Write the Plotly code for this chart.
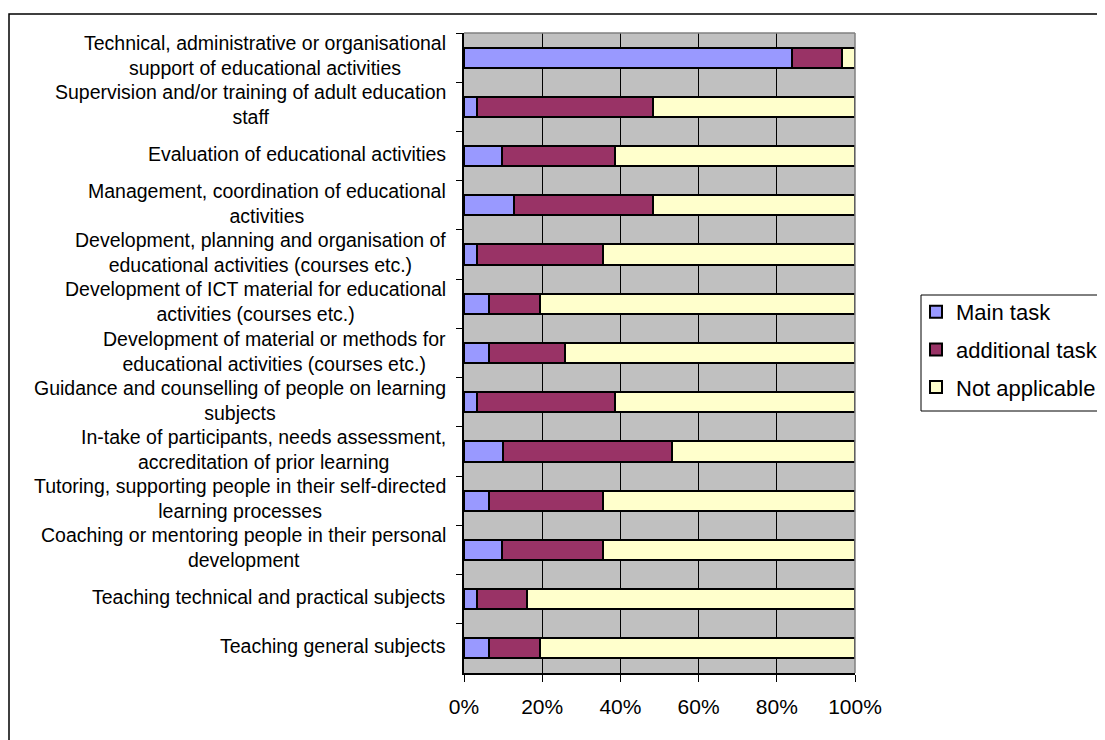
import plotly.graph_objects as go

# categories top to bottom, as in the chart
categories = [
    "Technical, administrative or organisational<br>support of educational activities",
    "Supervision and/or training of adult education<br>staff",
    "Evaluation of educational activities",
    "Management, coordination of educational<br>activities",
    "Development, planning and organisation of<br>educational activities (courses etc.)",
    "Development of ICT material for educational<br>activities (courses etc.)",
    "Development of material or methods for<br>educational activities (courses etc.)",
    "Guidance and counselling of people on learning<br>subjects",
    "In-take of participants, needs assessment,<br>accreditation of prior learning",
    "Tutoring, supporting people in their self-directed<br>learning processes",
    "Coaching or mentoring people in their personal<br>development",
    "Teaching technical and practical subjects",
    "Teaching general subjects",
]

# shares in percent
main_task = [83.9, 3.2, 9.7, 12.9, 3.2, 6.5, 6.5, 3.2, 10.0, 6.5, 9.7, 3.2, 6.5]
additional_task = [12.9, 45.2, 29.0, 35.5, 32.3, 12.9, 19.4, 35.5, 43.3, 29.0, 25.8, 12.9, 12.9]
not_applicable = [3.2, 51.6, 61.3, 51.6, 64.5, 80.6, 74.2, 61.3, 46.7, 64.5, 64.5, 83.9, 80.6]

x_ticks = [0, 20, 40, 60, 80, 100]
x_tick_labels = ["0%", "20%", "40%", "60%", "80%", "100%"]

series = [
    ("Main task", main_task, "#9999FF"),
    ("additional task", additional_task, "#993366"),
    ("Not applicable", not_applicable, "#FFFFCC"),
]

FONT = "Arial, Liberation Sans, sans-serif"
W, H = 1105, 740
OFF = 8  # page body margin
L = 464 - OFF
T = 33 - OFF
R = W - (855 - OFF)
B = H - (673 - OFF)
PW, PH = W - L - R, H - T - B


# helpers: screen pixel -> paper coords
def px_x(x):
    return (x - OFF - L) / PW


def px_y(y):
    return (H - B - (y - OFF)) / PH


fig = go.Figure()
for name, vals, color in series:
    fig.add_trace(
        go.Bar(
            y=categories,
            x=vals,
            name=name,
            orientation="h",
            marker=dict(color=color, line=dict(color="black", width=2)),
            legendgroup=name,
        )
    )

# category labels: centred lines, block right aligned
for cat in categories:
    fig.add_annotation(
        text=cat,
        xref="paper",
        x=0,
        xanchor="right",
        xshift=-16,
        yref="y",
        y=cat,
        yanchor="middle",
        yshift=2,
        align="center",
        showarrow=False,
        font=dict(family=FONT, size=19.5, color="black"),
    )

# outer frame, legend frame and grey plot border (top/right)
fig.add_shape(type="rect", xref="paper", yref="paper",
              x0=px_x(9), x1=px_x(1125), y0=px_y(760), y1=px_y(14),
              line=dict(color="black", width=1.5), layer="below")
fig.add_shape(type="rect", xref="paper", yref="paper",
              x0=px_x(921), x1=px_x(1125), y0=px_y(411), y1=px_y(295),
              line=dict(color="black", width=1), fillcolor="white", layer="below")
fig.add_shape(type="line", xref="paper", yref="paper", x0=0, x1=1, y0=1, y1=1,
              line=dict(color="#808080", width=1.5))
fig.add_shape(type="line", xref="paper", yref="paper", x0=1, x1=1, y0=0, y1=1,
              line=dict(color="#808080", width=1.5))

fig.update_layout(
    width=W,
    height=H,
    barmode="stack",
    bargap=0.59,
    plot_bgcolor="#C0C0C0",
    paper_bgcolor="white",
    margin=dict(l=L, r=R, t=T, b=B, autoexpand=False),
    font=dict(family=FONT, color="black"),
    legend=dict(
        x=px_x(916),
        y=px_y(291),
        xanchor="left",
        yanchor="top",
        traceorder="grouped",
        tracegroupgap=6,
        borderwidth=0,
        bgcolor="rgba(0,0,0,0)",
        itemwidth=30,
        font=dict(family=FONT, size=22, color="black"),
    ),
)
fig.update_xaxes(
    range=[0, 100],
    tickvals=x_ticks,
    ticktext=x_tick_labels,
    showgrid=True,
    gridcolor="black",
    gridwidth=1,
    showline=True,
    linecolor="black",
    linewidth=1.5,
    ticks="outside",
    ticklen=7,
    tickcolor="black",
    ticklabelstandoff=7,
    tickfont=dict(family=FONT, size=21, color="black"),
    zeroline=False,
    fixedrange=True,
)
fig.update_yaxes(
    type="category",
    autorange="reversed",
    showticklabels=False,
    tickson="boundaries",
    ticks="outside",
    ticklen=6,
    tickcolor="black",
    showgrid=False,
    showline=True,
    linecolor="black",
    linewidth=1.5,
    fixedrange=True,
)

fig.write_html("out.html")
